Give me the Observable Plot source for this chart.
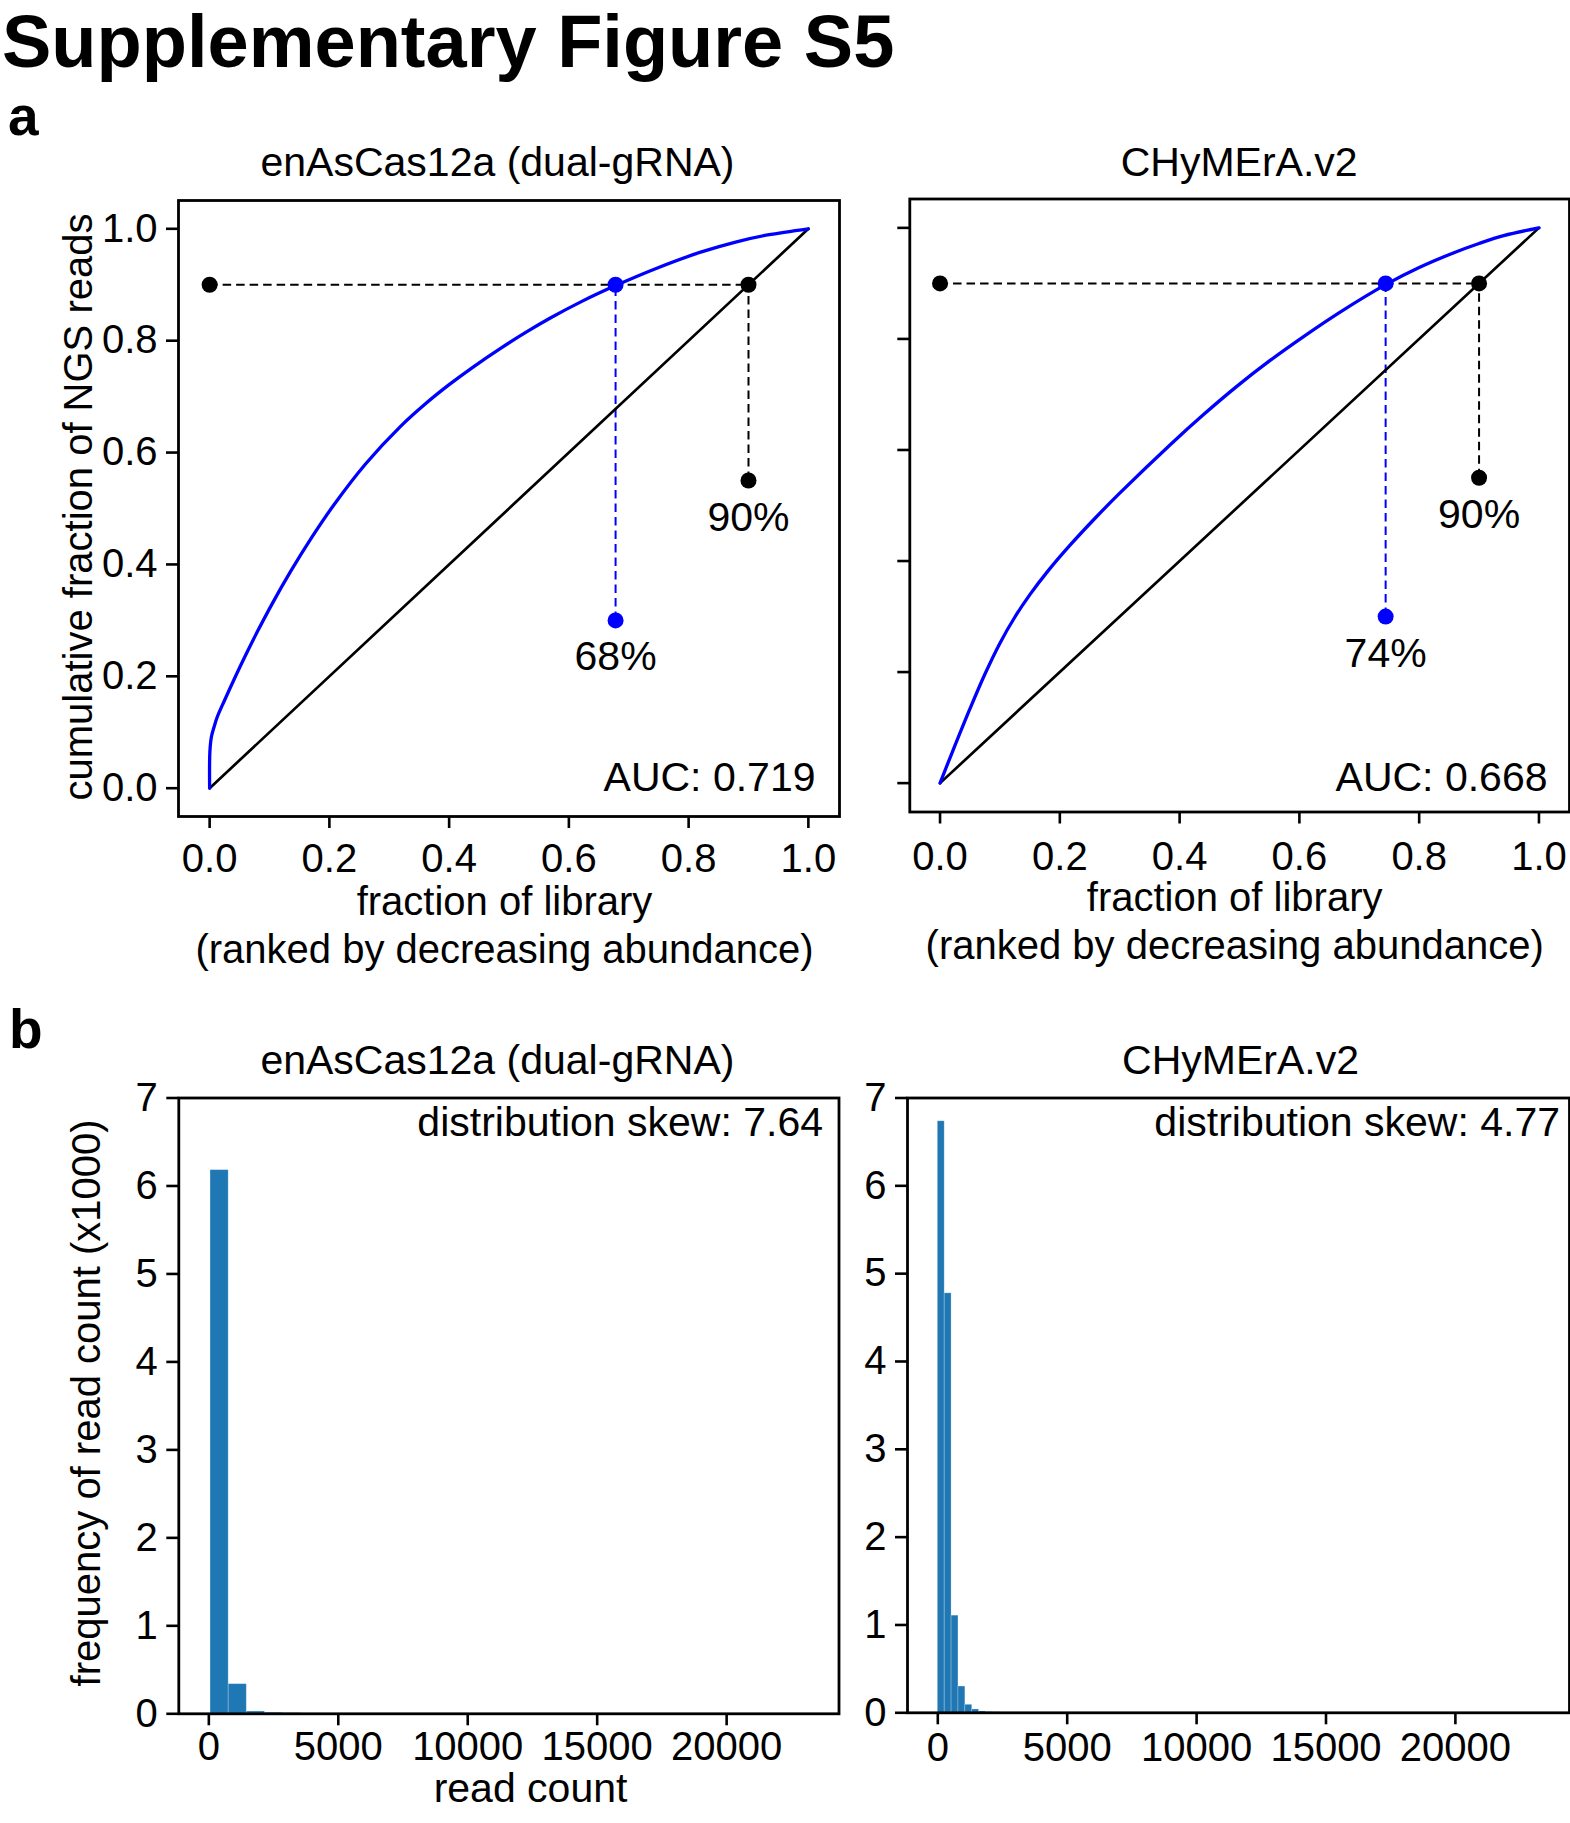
<!DOCTYPE html>
<html>
<head>
<meta charset="utf-8">
<script src="https://cdn.jsdelivr.net/npm/d3@7"></script>
<script src="https://cdn.jsdelivr.net/npm/@observablehq/plot@0.6"></script>
<style>
html, body { margin: 0; padding: 0; background: #fff; }
#page { position: relative; width: 1570px; height: 1823px; overflow: hidden; background: #fff; }
</style>
</head>
<body>
<div id="page"></div>
<script>
// ---------- Panel a: cumulative fraction of NGS reads vs fraction of library ----------
const libFracEnAs  = [0, 0.0004, 0.003, 0.007, 0.0127, 0.025, 0.0404, 0.06, 0.08, 0.1046, 0.135, 0.17, 0.2074, 0.26, 0.3189, 0.36, 0.40, 0.44, 0.4859, 0.53, 0.569, 0.62, 0.678, 0.75, 0.82, 0.88, 0.932, 1];
const readFracEnAs = [0, 0.065, 0.092, 0.108, 0.1272, 0.1573, 0.1935, 0.2376, 0.2804, 0.330, 0.387, 0.4474, 0.5063, 0.5792, 0.6469, 0.6868, 0.7214, 0.7529, 0.7863, 0.8161, 0.8405, 0.8694, 0.8985, 0.9309, 0.9582, 0.9768, 0.989, 1];
const libFracChy   = [0, 0.02, 0.05, 0.075, 0.1, 0.125, 0.15, 0.18, 0.2178, 0.26, 0.3, 0.3848, 0.44, 0.496, 0.55, 0.607, 0.67, 0.744, 0.80, 0.858, 0.90, 0.941, 1];
const readFracChy  = [0, 0.0545, 0.134, 0.1965, 0.2521, 0.2992, 0.3395, 0.3818, 0.4294, 0.4784, 0.5222, 0.610, 0.6638, 0.715, 0.7604, 0.8043, 0.8497, 0.8978, 0.9286, 0.9553, 0.9719, 0.986, 1];
const diagonalX = [0, 1];
const diagonalY = [0, 1];
const cutoffY = 0.9;          // 90% of reads
const hitEnAs = 0.678;        // library fraction reaching 90% of reads
const hitChy = 0.744;
const hitUniform = 0.9;
const markerLowBlue = 0.30;
const markerLowBlack = 0.55;
const pctEnAs = "68%";
const pctChy = "74%";
const pctUniform = "90%";
const aucEnAs = "AUC: 0.719";
const aucChy = "AUC: 0.668";
const fracTicks = [0, 0.2, 0.4, 0.6, 0.8, 1.0];

// ---------- Panel b: histograms of read counts (counts in thousands) ----------
const binStartEnAs = 66;
const binWidthEnAs = 700;
const countsEnAs = [6.18, 0.337, 0.026, 0.012, 0.007, 0.004, 0.003, 0.002];
const binStartChy = 0;
const binWidthChy = 266;
const countsChy = [6.735, 4.776, 1.106, 0.299, 0.091, 0.038, 0.015, 0.008, 0.005, 0.003];
const readTicks = [0, 5000, 10000, 15000, 20000];
const freqTicks = [0, 1, 2, 3, 4, 5, 6, 7];
const skewEnAs = "distribution skew: 7.64";
const skewChy = "distribution skew: 4.77";

const titleEnAs = "enAsCas12a (dual-gRNA)";
const titleChy = "CHyMErA.v2";
const xLabelA = "fraction of library\n(ranked by decreasing abundance)";
const yLabelA = "cumulative fraction of NGS reads";
const xLabelB = "read count";
const yLabelB = "frequency of read count (x1000)";

// ---------- styling ----------
const FONT = '"Liberation Sans", Arial, Helvetica, sans-serif';
const BLUE = "#0000ff";
const C0 = "#1f77b4";
const DASH = "8.5,5";
const fmt1 = d3.format(".1f");
const fmtInt = d3.format("d");
const page = document.getElementById("page");

function place(svg, left, top) {
  svg.style.position = "absolute";
  svg.style.left = left + "px";
  svg.style.top = top + "px";
  page.appendChild(svg);
}

function baseStyle() {
  return {fontFamily: FONT, background: "transparent", overflow: "visible", color: "black", maxWidth: "none"};
}

function lorenzPlot(c) {
  const curve = c.xs.map((x, i) => ({x, y: c.ys[i]}));
  const diag = diagonalX.map((x, i) => ({x, y: diagonalY[i]}));
  const blackDots = [{x: 0, y: cutoffY}, {x: hitUniform, y: cutoffY}, {x: hitUniform, y: markerLowBlack}];
  const blueDots = [{x: c.hit, y: cutoffY}, {x: c.hit, y: markerLowBlue}];
  const pctLabels = [{x: hitUniform, y: markerLowBlack, t: pctUniform}, {x: c.hit, y: markerLowBlue, t: c.pct}];
  const marks = [
    Plot.ruleY([cutoffY], {x1: 0, x2: hitUniform, stroke: "black", strokeWidth: 2, strokeDasharray: DASH}),
    Plot.ruleX([c.hit], {y1: markerLowBlue, y2: cutoffY, stroke: BLUE, strokeWidth: 2, strokeDasharray: DASH}),
    Plot.ruleX([hitUniform], {y1: markerLowBlack, y2: cutoffY, stroke: "black", strokeWidth: 2, strokeDasharray: DASH}),
    Plot.line(diag, {x: "x", y: "y", stroke: "black", strokeWidth: 2.7}),
    Plot.line(curve, {x: "x", y: "y", stroke: BLUE, strokeWidth: 3.3, curve: "catmull-rom"}),
    Plot.dot(blackDots, {x: "x", y: "y", r: 8, fill: "black", stroke: "none"}),
    Plot.dot(blueDots, {x: "x", y: "y", r: 8, fill: BLUE, stroke: "none"}),
    Plot.text(pctLabels, {x: "x", y: "y", text: "t", dy: 50, lineAnchor: "bottom", textAnchor: "middle", fontSize: 41}),
    Plot.text([c.auc], {frameAnchor: "bottom-right", textAnchor: "end", lineAnchor: "bottom", dx: c.aucDx, dy: c.aucDy, fontSize: 41}),
    Plot.text([c.title], {frameAnchor: "top", textAnchor: "middle", lineAnchor: "bottom", dx: c.titleDx, dy: c.titleDy, fontSize: 41}),
    Plot.text([xLabelA], {frameAnchor: "bottom", textAnchor: "middle", lineAnchor: "bottom", lineHeight: 1.2, dx: c.xlabDx, dy: c.xlabDy, fontSize: 40}),
    Plot.frame({stroke: "black", strokeWidth: 2.8}),
    Plot.axisX(fracTicks, {tickSize: 12, tickPadding: c.xPad, tickFormat: fmt1, fontSize: 40, strokeWidth: 2.6, label: null}),
    Plot.axisY(fracTicks, {tickSize: 12, tickPadding: 9, tickFormat: c.yLabels ? fmt1 : () => "", fontSize: 40, strokeWidth: 2.6, label: null})
  ];
  if (c.ylabel) {
    marks.push(Plot.text([c.ylabel], {frameAnchor: "left", rotate: -90, textAnchor: "middle", lineAnchor: "bottom", dx: c.ylabDx, dy: c.ylabDy, fontSize: 40}));
  }
  return Plot.plot({
    width: c.width, height: c.height,
    marginLeft: c.mL, marginRight: c.mR, marginTop: c.mT, marginBottom: c.mB,
    x: {domain: c.xDomain},
    y: {domain: c.yDomain},
    style: baseStyle(),
    marks
  });
}

function histPlot(c) {
  const bins = c.counts.map((v, i) => ({x1: c.start + i * c.binWidth, x2: c.start + (i + 1) * c.binWidth, y: v}));
  const marks = [
    Plot.rect(bins, {x1: "x1", x2: "x2", y1: 0, y2: "y", fill: C0, stroke: "#ffffff", strokeOpacity: 0.3, strokeWidth: 0.8, inset: 0}),
    Plot.frame({stroke: "black", strokeWidth: 2.8}),
    Plot.axisX(readTicks, {tickSize: 12, tickPadding: c.xPad, tickFormat: fmtInt, fontSize: 40, strokeWidth: 2.6, label: null}),
    Plot.axisY(freqTicks, {tickSize: 12, tickPadding: 9, tickFormat: fmtInt, fontSize: 40, strokeWidth: 2.6, label: null}),
    Plot.text([c.title], {frameAnchor: "top", textAnchor: "middle", lineAnchor: "bottom", dx: c.titleDx, dy: c.titleDy, fontSize: 41}),
    Plot.text([c.skew], {frameAnchor: "top-right", textAnchor: "end", lineAnchor: "bottom", dx: c.skewDx, dy: c.skewDy, fontSize: 41})
  ];
  if (c.xlabel) {
    marks.push(Plot.text([c.xlabel], {frameAnchor: "bottom", textAnchor: "middle", lineAnchor: "bottom", dx: c.xlabDx, dy: c.xlabDy, fontSize: 41}));
  }
  if (c.ylabel) {
    marks.push(Plot.text([c.ylabel], {frameAnchor: "left", rotate: -90, textAnchor: "middle", lineAnchor: "bottom", dx: c.ylabDx, dy: c.ylabDy, fontSize: 40}));
  }
  return Plot.plot({
    width: c.width, height: c.height,
    marginLeft: c.mL, marginRight: c.mR, marginTop: c.mT, marginBottom: c.mB,
    x: {domain: c.xDomain},
    y: {domain: [0, 7]},
    style: baseStyle(),
    marks
  });
}

// static figure headings
const over = d3.select(page).append("svg")
  .attr("width", 1570).attr("height", 1823)
  .style("position", "absolute").style("left", "0px").style("top", "0px")
  .style("font-family", FONT);
over.append("text").attr("x", 2).attr("y", 67).attr("font-size", 74).attr("font-weight", "bold").text("Supplementary Figure S5");
over.append("text").attr("x", 8).attr("y", 135).attr("font-size", 55).attr("font-weight", "bold").text("a");
over.append("text").attr("x", 9).attr("y", 1048).attr("font-size", 55).attr("font-weight", "bold").text("b");

// panel a
place(lorenzPlot({
  xs: libFracEnAs, ys: readFracEnAs, hit: hitEnAs, pct: pctEnAs, auc: aucEnAs, title: titleEnAs,
  width: 840, height: 850, mL: 178, mR: 1, mT: 70, mB: 164,
  xDomain: [-0.052, 1.052], yDomain: [-0.0506, 1.0506],
  titleDx: -11.5, titleDy: -25, aucDx: -24, aucDy: -26, xlabDx: -4.5, xlabDy: 146, xPad: 15,
  yLabels: true, ylabel: yLabelA, ylabDx: -87, ylabDy: -1.5
}), 0, 130);

place(lorenzPlot({
  xs: libFracChy, ys: readFracChy, hit: hitChy, pct: pctChy, auc: aucChy, title: titleChy,
  width: 730, height: 850, mL: 69.3, mR: 1, mT: 68.5, mB: 168.5,
  xDomain: [-0.0505, 1.051], yDomain: [-0.052, 1.052],
  titleDx: -0.5, titleDy: -23.5, aucDx: -22, aucDy: -21.5, xlabDx: -5, xlabDy: 146.8, xPad: 18,
  yLabels: false
}), 840, 130);

// panel b
place(histPlot({
  counts: countsEnAs, start: binStartEnAs, binWidth: binWidthEnAs, title: titleEnAs, skew: skewEnAs,
  width: 840, height: 783, mL: 178.3, mR: 1.5, mT: 57.5, mB: 109.7,
  xDomain: [-1160, 24340],
  titleDx: -11.5, titleDy: -24, skewDx: -16, skewDy: 37.5, xPad: 6,
  xlabel: xLabelB, xlabDx: 21.6, xlabDy: 87.7,
  ylabel: yLabelB, ylabDx: -79.3, ylabDy: -3
}), 0, 1040);

place(histPlot({
  counts: countsChy, start: binStartChy, binWidth: binWidthChy, title: titleChy, skew: skewChy,
  width: 730, height: 783, mL: 67, mR: 1, mT: 57.5, mB: 110.7,
  xDomain: [-1171, 24409],
  titleDx: 2, titleDy: -24.5, skewDx: -9.5, skewDy: 37.5, xPad: 8
}), 840, 1040);
</script>
</body>
</html>
